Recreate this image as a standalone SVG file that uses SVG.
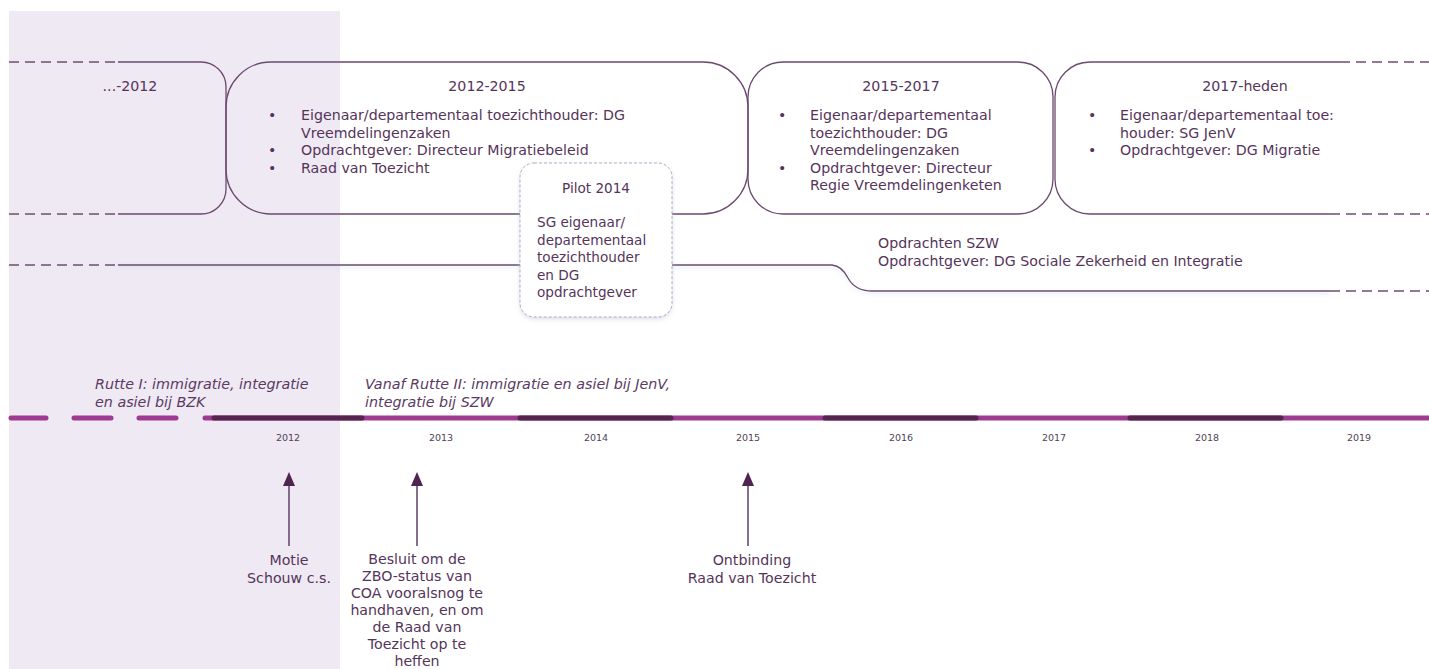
<svg xmlns="http://www.w3.org/2000/svg" width="1429" height="669" viewBox="0 0 1429 669">
<defs>
<style>
text{font-family:"DejaVu Sans","Liberation Sans",sans-serif;fill:#55345a}
.t{font-size:14.2px}
.c{text-anchor:middle}
.it{font-style:italic;font-size:14.3px;fill:#5a3a62}
.yr{font-size:9.5px;fill:#4f3f58;text-anchor:middle}
.ln{fill:none;stroke:#6a4a6e;stroke-width:1.3}
.ds{fill:none;stroke:#6e4e72;stroke-width:1.6;stroke-dasharray:10 6}
.mg{stroke:#9c3b8f;stroke-width:5;stroke-linecap:round;fill:none}
.dk{stroke:#55244f;stroke-width:5;stroke-linecap:round;fill:none}
.ar{stroke:#6a4a70;stroke-width:1.6;fill:none}
.ah{fill:#4f2450}
</style>
<filter id="sh" x="-10%" y="-10%" width="120%" height="130%">
<feDropShadow dx="0" dy="2" stdDeviation="2" flood-color="#b8c4dc" flood-opacity="0.5"/>
</filter>
</defs>
<rect x="0" y="0" width="1429" height="669" fill="#ffffff"/>
<rect id="shade" x="9" y="11" width="331" height="658" fill="#efe9f4"/>
<g id="connectors">
<path class="ds" d="M9 62H118M9 214H118M9 265H118M1340 62H1429M1330 214H1429M1330 291H1429"/>
<path class="ln" filter="url(#sh)" d="M118 214H1330"/>
<path class="ln" filter="url(#sh)" d="M118 265H832Q842 266 848 278Q855 291 872 291H1330"/>
</g>
<g id="box-2012">
<path class="ln" d="M118 62H201A25 25 0 0 1 226 87V189A25 25 0 0 1 201 214H118"/>
<text class="t c" x="130" y="91">...-2012</text>
</g>
<g id="box-2012-2015">
<path class="ln" d="M271 62H703A45 45 0 0 1 748 107V169A45 45 0 0 1 703 214H271A45 45 0 0 1 226 169V107A45 45 0 0 1 271 62Z"/>
<text class="t c" x="487" y="91">2012-2015</text>
<g class="t">
<text x="268" y="120">•</text><text x="301" y="120">Eigenaar/departementaal toezichthouder: DG</text>
<text x="301" y="137.5">Vreemdelingenzaken</text>
<text x="268" y="155">•</text><text x="301" y="155">Opdrachtgever: Directeur Migratiebeleid</text>
<text x="268" y="172.5">•</text><text x="301" y="172.5">Raad van Toezicht</text>
</g>
</g>
<g id="box-2015-2017">
<path class="ln" d="M783 62H1018A35 35 0 0 1 1053 97V179A35 35 0 0 1 1018 214H783A35 35 0 0 1 748 179V97A35 35 0 0 1 783 62Z"/>
<text class="t c" x="901" y="91">2015-2017</text>
<g class="t">
<text x="778" y="120">•</text><text x="810" y="120">Eigenaar/departementaal</text>
<text x="810" y="137.5">toezichthouder: DG</text>
<text x="810" y="155">Vreemdelingenzaken</text>
<text x="778" y="172.5">•</text><text x="810" y="172.5">Opdrachtgever: Directeur</text>
<text x="810" y="190">Regie Vreemdelingenketen</text>
</g>
</g>
<g id="box-2017-heden">
<path class="ln" d="M1340 62H1090A35 35 0 0 0 1055 97V179A35 35 0 0 0 1090 214H1330"/>
<text class="t c" x="1245" y="91">2017-heden</text>
<g class="t">
<text x="1088" y="120">•</text><text x="1120" y="120">Eigenaar/departementaal toe:</text>
<text x="1120" y="137.5">houder: SG JenV</text>
<text x="1088" y="155">•</text><text x="1120" y="155">Opdrachtgever: DG Migratie</text>
</g>
</g>
<g id="szw">
<text class="t" x="878" y="248">Opdrachten SZW</text>
<text class="t" x="878" y="266">Opdrachtgever: DG Sociale Zekerheid en Integratie</text>
</g>
<g id="pilot-2014">
<rect x="520" y="163" width="152" height="154" rx="14" fill="#ffffff" stroke="#b5a9ba" stroke-width="1" stroke-dasharray="3 2" filter="url(#sh)"/>
<text class="c" x="596" y="193" style="font-size:13.6px">Pilot 2014</text>
<g style="font-size:13.6px">
<text x="537" y="227">SG eigenaar/</text>
<text x="537" y="244.5">departementaal</text>
<text x="537" y="262">toezichthouder</text>
<text x="537" y="279.5">en DG</text>
<text x="537" y="297">opdrachtgever</text>
</g>
</g>
<g id="rutte">
<text class="it" x="95" y="389">Rutte I: immigratie, integratie</text>
<text class="it" x="95" y="407">en asiel bij BZK</text>
<text class="it" x="365" y="389">Vanaf Rutte II: immigratie en asiel bij JenV,</text>
<text class="it" x="365" y="407">integratie bij SZW</text>
</g>
<g id="timeline">
<path class="mg" d="M11 418H46M74 418H111M139 418H176M205 418H1429"/>
<path class="dk" d="M214 418H362M520 418H671M825 418H976M1130 418H1281"/>
<text class="yr" x="288" y="441">2012</text>
<text class="yr" x="441" y="441">2013</text>
<text class="yr" x="596" y="441">2014</text>
<text class="yr" x="748" y="441">2015</text>
<text class="yr" x="901" y="441">2016</text>
<text class="yr" x="1054" y="441">2017</text>
<text class="yr" x="1207" y="441">2018</text>
<text class="yr" x="1359" y="441">2019</text>
</g>
<g id="event-motie">
<path class="ar" d="M289 546V484"/>
<path class="ah" d="M289 472L295 486H283Z"/>
<text class="t c" x="289" y="565">Motie</text>
<text class="t c" x="289" y="583">Schouw c.s.</text>
</g>
<g id="event-besluit">
<path class="ar" d="M417 546V484"/>
<path class="ah" d="M417 472L423 486H411Z"/>
<g class="t c">
<text x="417" y="564">Besluit om de</text>
<text x="417" y="581">ZBO-status van</text>
<text x="417" y="598">COA vooralsnog te</text>
<text x="417" y="615">handhaven, en om</text>
<text x="417" y="632">de Raad van</text>
<text x="417" y="649">Toezicht op te</text>
<text x="417" y="666">heffen</text>
</g>
</g>
<g id="event-ontbinding">
<path class="ar" d="M748 546V484"/>
<path class="ah" d="M748 472L754 486H742Z"/>
<text class="t c" x="752" y="565">Ontbinding</text>
<text class="t c" x="752" y="583">Raad van Toezicht</text>
</g>
</svg>
